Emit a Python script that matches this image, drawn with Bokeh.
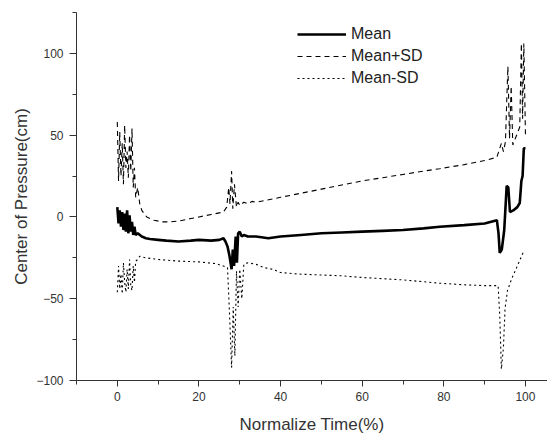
from bokeh.plotting import figure
from bokeh.models import Range1d, SingleIntervalTicker, Legend, LegendItem
from bokeh.embed import file_html
from bokeh.resources import INLINE

# ---- data ----
mean_x = [0, 0.3, 0.6, 0.9, 1.2, 1.5, 1.8, 2.1, 2.4, 2.7, 3.0, 3.3, 3.6, 3.9, 4.2, 4.5,
          5, 6, 7, 8, 10, 12, 15, 18, 20, 23, 25, 26, 26.5, 27, 27.5, 28, 28.3, 28.6,
          29, 29.3, 29.6, 30, 30.5, 31, 32, 34, 37, 40, 45, 50, 55, 60, 65, 70, 75,
          79, 85, 90, 93, 93.4, 93.7, 94.2, 94.8, 95.4, 95.8, 96.2, 97, 98, 98.6, 99,
          99.3, 99.6, 100]
mean_y = [6, -4, 4, -6, 3, -8, 2, -9, 4, -10, 1, -9, -3, -11, -6, -11,
          -10, -12, -13, -13.5, -14, -14.5, -15, -14.5, -14, -14.5, -14, -13, -15, -18,
          -24, -32, -20, -30, -12, -28, -10, -9, -12, -11, -12, -12, -13, -12, -11, -10,
          -9.5, -9, -8.5, -8, -7, -6, -5, -4, -2, -10, -22, -20, -8, 19, 18, 3, 4, 6,
          8.5, 22, 25, 42, 42]

plus_x = [0, 0.3, 0.6, 0.9, 1.2, 1.5, 1.8, 2.1, 2.4, 2.7, 3.0, 3.3, 3.6, 3.9, 4.2, 4.5,
          5, 5.5, 6, 7.2, 9, 11, 13, 15, 18, 20, 23, 26, 26.8, 27.3, 27.6, 28, 28.3,
          28.7, 29.2, 29.6, 30, 31, 32, 33, 34, 36, 40, 45, 50, 55, 60, 65, 70, 75, 79,
          85, 90, 93, 94.1, 94.6, 95.1, 95.4, 95.7, 96.1, 96.5, 96.9, 97.2, 98, 98.6,
          99, 99.3, 99.6, 100]
plus_y = [58, 22, 52, 25, 45, 20, 56, 30, 40, 24, 50, 28, 54, 18, 30, 12,
          18, 8, 4, 0, -2, -3, -3, -2.5, -1, 0, 1.5, 3, 6, 18, 8, 28, 5,
          20, 6, 9, 7, 9, 8, 9.5, 9, 10, 12, 14.5, 17, 19.5, 22, 24, 26, 28, 29.5,
          32, 34.5, 36.5, 45, 40, 46, 70, 92, 48, 80, 44, 46, 51, 55,
          106, 60, 106, 50]

minus_x = [0, 0.3, 0.6, 0.9, 1.2, 1.5, 1.8, 2.1, 2.4, 2.7, 3.0, 3.3, 3.6, 3.9, 4.2, 4.5,
           5, 5.5, 7, 10, 15, 20, 24, 26, 27, 27.5, 28, 28.4, 28.8, 29.2, 29.6, 30,
           30.5, 31, 32, 34, 36, 38, 40, 45, 50, 55, 60, 70, 79, 85, 90, 93.3, 93.7,
           94.1, 94.6, 95, 95.6, 96.6, 98, 99.4, 100]
minus_y = [-46, -30, -44, -35, -47, -28, -40, -46, -32, -44, -26, -42, -45, -30, -40, -27,
           -26, -24, -25, -26, -27, -27.5, -28.5, -30, -31, -60, -92, -55, -85, -33, -55,
           -32, -50, -29, -28, -29, -31, -32, -34, -35, -35.5, -36, -37, -38.5, -40.5,
           -41.5, -42, -42, -60, -93, -80, -56, -45, -38, -30, -22, -21]

series_labels = ["Mean", "Mean+SD", "Mean-SD"]
x_title = "Normalize Time(%)"
y_title = "Center of Pressure(cm)"

FONT = "Liberation Sans"

p = figure(width=547, height=436, output_backend="svg", toolbar_location=None,
           x_range=Range1d(-10, 105.4), y_range=Range1d(-100, 125),
           min_border_left=76, min_border_right=0, min_border_top=12,
           min_border_bottom=54)
p.outline_line_color = None
p.background_fill_color = "white"
p.border_fill_color = "white"
p.xgrid.visible = False
p.ygrid.visible = False

r_mean = p.line(mean_x, mean_y, line_color="black", line_width=2.6)
r_plus = p.line(plus_x, plus_y, line_color="black", line_width=1.1, line_dash="5 4")
r_minus = p.line(minus_x, minus_y, line_color="black", line_width=1.1, line_dash="2 3")

p.xaxis.ticker = SingleIntervalTicker(interval=20, num_minor_ticks=2)
p.yaxis.ticker = SingleIntervalTicker(interval=50, num_minor_ticks=2)

for ax in (p.xaxis[0], p.yaxis[0]):
    ax.axis_line_color = "#333333"
    ax.major_tick_line_color = "#333333"
    ax.minor_tick_line_color = "#333333"
    ax.major_tick_in = 0
    ax.minor_tick_in = 0
    ax.major_label_text_font = FONT
    ax.major_label_text_font_size = "12px"
    ax.major_label_text_color = "#333333"
    ax.axis_label_text_font = FONT
    ax.axis_label_text_font_size = "17px"
    ax.axis_label_text_font_style = "normal"
    ax.axis_label_text_color = "#333333"

p.xaxis.major_tick_out = 6
p.xaxis.minor_tick_out = 4
p.yaxis.major_tick_out = 7
p.yaxis.minor_tick_out = 4
p.xaxis.major_label_standoff = 5
p.yaxis.major_label_standoff = 6
p.xaxis.axis_label_standoff = 11
p.yaxis.axis_label_standoff = 2
p.xaxis.axis_label = x_title
p.yaxis.axis_label = y_title

legend = Legend(items=[LegendItem(label=series_labels[0], renderers=[r_mean]),
                       LegendItem(label=series_labels[1], renderers=[r_plus]),
                       LegendItem(label=series_labels[2], renderers=[r_minus])],
                location=(221, 291))
legend.border_line_color = None
legend.background_fill_alpha = 0
legend.padding = 0
legend.margin = 0
legend.spacing = 0
legend.glyph_width = 49
legend.glyph_height = 22
legend.label_height = 22
legend.label_standoff = 5
legend.label_text_font = FONT
legend.label_text_font_size = "16px"
legend.label_text_color = "#222222"
p.add_layout(legend)

open("out.html", "w").write(file_html(p, INLINE))
